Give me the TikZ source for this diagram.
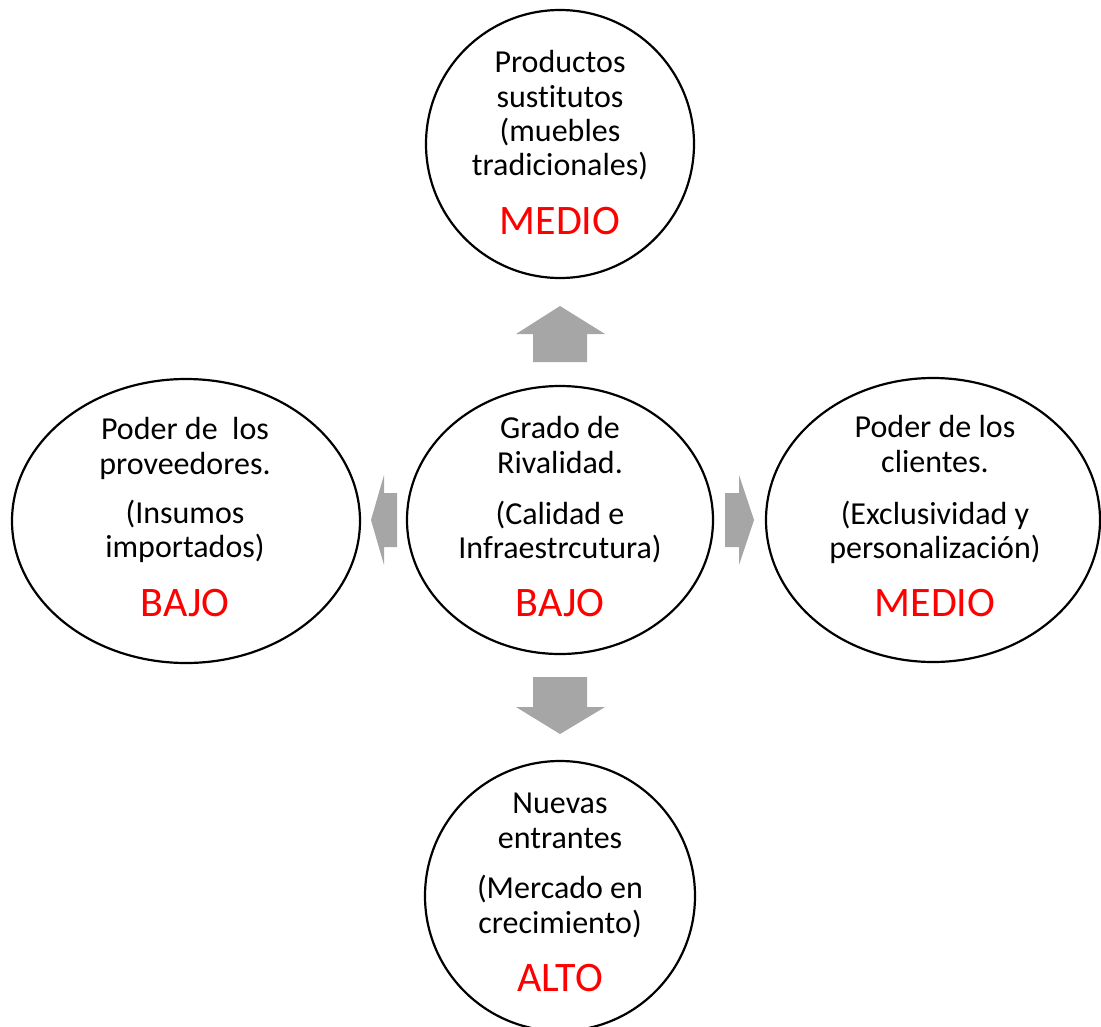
\documentclass[tikz,border=0pt]{standalone}
\usepackage{fontspec}
\setmainfont{Carlito}[Ligatures=NoCommon]
\usetikzlibrary{shapes.geometric}
\definecolor{arrowgray}{HTML}{A6A6A6}
\definecolor{levelred}{HTML}{FF0000}
\begin{document}
\begin{tikzpicture}[x=1pt,y=-1pt,
  force/.style={draw=black, line width=2.2pt, ellipse, inner sep=0pt},
  txt/.style={anchor=base, inner sep=0pt, font=\fontsize{32}{35}\selectfont},
  level/.style={anchor=base, inner sep=0pt, text=levelred, font=\fontsize{42}{46}\selectfont},
  block/.style={fill=arrowgray, draw=none}]
\useasboundingbox (0,0) rectangle (1101,1026);

% the five forces
\node[force, minimum width=268pt, minimum height=268pt] (subst) at (560,144) {};
\node[force, minimum width=306pt, minimum height=268pt] (rival) at (560,520) {};
\node[force, minimum width=348pt, minimum height=284pt] (prov)  at (186,521) {};
\node[force, minimum width=334pt, minimum height=284pt] (clien) at (933,520) {};
\node[force, minimum width=270pt, minimum height=270pt] (nuev)  at (560,896) {};

% block arrows from the rivalry circle
\fill[block] (560,306) -- (605,334) -- (587,334) -- (587,362) -- (533,362) -- (533,334) -- (516,334) -- cycle;
\fill[block] (533,677) -- (587,677) -- (587,707) -- (605,707) -- (560,734) -- (516,707) -- (533,707) -- cycle;
\fill[block] (371,520) -- (384,475) -- (384,493) -- (397,493) -- (397,547) -- (384,547) -- (384,565) -- cycle;
\fill[block] (725,493) -- (739,493) -- (739,475) -- (754,520) -- (739,565) -- (739,547) -- (725,547) -- cycle;

% substitutes
\node[txt] (subst1) at (560,72)  {Productos};
\node[txt] (subst2) at (560,107) {sustitutos};
\node[txt] (subst3) at (560,141) {(muebles};
\node[txt] (subst4) at (560,175) {tradicionales)};
\node[level] (substL) at (560,234) {MEDIO};

% rivalry
\node[txt] (rival1) at (560,438) {Grado de};
\node[txt] (rival2) at (560,473) {Rivalidad.};
\node[txt] (rival3) at (560,524) {(Calidad e};
\node[txt] (rival4) at (560,558) {Infraestrcutura)};
\node[level] (rivalL) at (560,616) {BAJO};

% suppliers
\node[txt] (prov1) at (185,439) {Poder de\ \ los};
\node[txt] (prov2) at (185,474) {proveedores.};
\node[txt] (prov3) at (185,523) {(Insumos};
\node[txt] (prov4) at (185,557) {importados)};
\node[level] (provL) at (185,616) {BAJO};

% customers
\node[txt] (clien1) at (935,437) {Poder de los};
\node[txt] (clien2) at (935,472) {clientes.};
\node[txt] (clien3) at (935,524) {(Exclusividad y};
\node[txt] (clien4) at (935,558) {personalización)};
\node[level] (clienL) at (935,616) {MEDIO};

% new entrants
\node[txt] (nuev1) at (560,813) {Nuevas};
\node[txt] (nuev2) at (560,848) {entrantes};
\node[txt] (nuev3) at (560,898) {(Mercado en};
\node[txt] (nuev4) at (560,933) {crecimiento)};
\node[level] (nuevL) at (560,991) {ALTO};
\end{tikzpicture}
\end{document}
